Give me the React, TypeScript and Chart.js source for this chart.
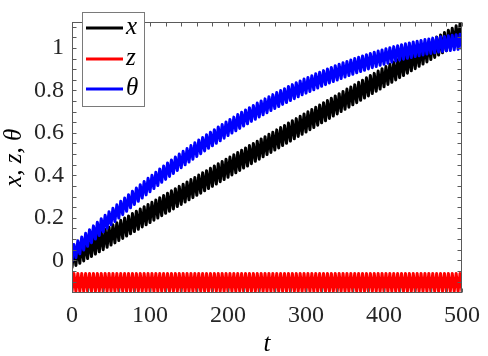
import React, { useEffect, useRef } from "react";
import { Chart, registerables } from "chart.js";

Chart.register(...registerables);

// sample times (alternating trough / crest of the fast oscillation)
const tValues = [
  0, 2.5, 5, 7.5, 10, 12.5, 15, 17.5, 20, 22.5, 25, 27.5, 30, 32.5, 35, 37.5, 40, 42.5, 45, 47.5,
  50, 52.5, 55, 57.5, 60, 62.5, 65, 67.5, 70, 72.5, 75, 77.5, 80, 82.5, 85, 87.5, 90, 92.5, 95, 97.5,
  100, 102.5, 105, 107.5, 110, 112.5, 115, 117.5, 120, 122.5, 125, 127.5, 130, 132.5, 135, 137.5, 140, 142.5, 145, 147.5,
  150, 152.5, 155, 157.5, 160, 162.5, 165, 167.5, 170, 172.5, 175, 177.5, 180, 182.5, 185, 187.5, 190, 192.5, 195, 197.5,
  200, 202.5, 205, 207.5, 210, 212.5, 215, 217.5, 220, 222.5, 225, 227.5, 230, 232.5, 235, 237.5, 240, 242.5, 245, 247.5,
  250, 252.5, 255, 257.5, 260, 262.5, 265, 267.5, 270, 272.5, 275, 277.5, 280, 282.5, 285, 287.5, 290, 292.5, 295, 297.5,
  300, 302.5, 305, 307.5, 310, 312.5, 315, 317.5, 320, 322.5, 325, 327.5, 330, 332.5, 335, 337.5, 340, 342.5, 345, 347.5,
  350, 352.5, 355, 357.5, 360, 362.5, 365, 367.5, 370, 372.5, 375, 377.5, 380, 382.5, 385, 387.5, 390, 392.5, 395, 397.5,
  400, 402.5, 405, 407.5, 410, 412.5, 415, 417.5, 420, 422.5, 425, 427.5, 430, 432.5, 435, 437.5, 440, 442.5, 445, 447.5,
  450, 452.5, 455, 457.5, 460, 462.5, 465, 467.5, 470, 472.5, 475, 477.5, 480, 482.5, 485, 487.5, 490, 492.5, 495, 497.5,
  500,
];

const xValues = [
  -0.035, 0.060, -0.024, 0.071, -0.014, 0.082, -0.003, 0.092, 0.008, 0.103, 0.018, 0.114, 0.029, 0.124, 0.040, 0.135, 0.050, 0.146, 0.061, 0.156,
  0.072, 0.167, 0.082, 0.177, 0.093, 0.188, 0.103, 0.199, 0.114, 0.209, 0.125, 0.220, 0.135, 0.231, 0.146, 0.241, 0.157, 0.252, 0.167, 0.263,
  0.178, 0.273, 0.189, 0.284, 0.199, 0.295, 0.210, 0.305, 0.221, 0.316, 0.231, 0.327, 0.242, 0.337, 0.253, 0.348, 0.263, 0.358, 0.274, 0.369,
  0.285, 0.380, 0.295, 0.390, 0.306, 0.401, 0.316, 0.412, 0.327, 0.422, 0.338, 0.433, 0.348, 0.444, 0.359, 0.454, 0.370, 0.465, 0.380, 0.476,
  0.391, 0.486, 0.402, 0.497, 0.412, 0.508, 0.423, 0.518, 0.434, 0.529, 0.444, 0.540, 0.455, 0.550, 0.466, 0.561, 0.476, 0.571, 0.487, 0.582,
  0.498, 0.593, 0.508, 0.603, 0.519, 0.614, 0.529, 0.625, 0.540, 0.635, 0.551, 0.646, 0.561, 0.657, 0.572, 0.667, 0.583, 0.678, 0.593, 0.689,
  0.604, 0.699, 0.615, 0.710, 0.625, 0.721, 0.636, 0.731, 0.647, 0.742, 0.657, 0.752, 0.668, 0.763, 0.679, 0.774, 0.689, 0.784, 0.700, 0.795,
  0.711, 0.806, 0.721, 0.816, 0.732, 0.827, 0.742, 0.838, 0.753, 0.848, 0.764, 0.859, 0.774, 0.870, 0.785, 0.880, 0.796, 0.891, 0.806, 0.902,
  0.817, 0.912, 0.828, 0.923, 0.838, 0.933, 0.849, 0.944, 0.860, 0.955, 0.870, 0.965, 0.881, 0.976, 0.892, 0.987, 0.902, 0.997, 0.913, 1.008,
  0.924, 1.019, 0.934, 1.029, 0.945, 1.040, 0.955, 1.051, 0.966, 1.061, 0.977, 1.072, 0.987, 1.083, 0.998, 1.093, 1.009, 1.104, 1.019, 1.115,
  1.030,
];

const zValues = [
  -0.146, -0.062, -0.146, -0.062, -0.146, -0.062, -0.146, -0.062, -0.146, -0.062, -0.146, -0.062, -0.146, -0.062, -0.146, -0.062, -0.146, -0.062, -0.146, -0.062,
  -0.146, -0.062, -0.146, -0.062, -0.146, -0.062, -0.146, -0.062, -0.146, -0.062, -0.146, -0.062, -0.146, -0.062, -0.146, -0.062, -0.146, -0.062, -0.146, -0.062,
  -0.146, -0.062, -0.146, -0.062, -0.146, -0.062, -0.146, -0.062, -0.146, -0.062, -0.146, -0.062, -0.146, -0.062, -0.146, -0.062, -0.146, -0.062, -0.146, -0.062,
  -0.146, -0.062, -0.146, -0.062, -0.146, -0.062, -0.146, -0.062, -0.146, -0.062, -0.146, -0.062, -0.146, -0.062, -0.146, -0.062, -0.146, -0.062, -0.146, -0.062,
  -0.146, -0.062, -0.146, -0.062, -0.146, -0.062, -0.146, -0.062, -0.146, -0.062, -0.146, -0.062, -0.146, -0.062, -0.146, -0.062, -0.146, -0.062, -0.146, -0.062,
  -0.146, -0.062, -0.146, -0.062, -0.146, -0.062, -0.146, -0.062, -0.146, -0.062, -0.146, -0.062, -0.146, -0.062, -0.146, -0.062, -0.146, -0.062, -0.146, -0.062,
  -0.146, -0.062, -0.146, -0.062, -0.146, -0.062, -0.146, -0.062, -0.146, -0.062, -0.146, -0.062, -0.146, -0.062, -0.146, -0.062, -0.146, -0.062, -0.146, -0.062,
  -0.146, -0.062, -0.146, -0.062, -0.146, -0.062, -0.146, -0.062, -0.146, -0.062, -0.146, -0.062, -0.146, -0.062, -0.146, -0.062, -0.146, -0.062, -0.146, -0.062,
  -0.146, -0.062, -0.146, -0.062, -0.146, -0.062, -0.146, -0.062, -0.146, -0.062, -0.146, -0.062, -0.146, -0.062, -0.146, -0.062, -0.146, -0.062, -0.146, -0.062,
  -0.146, -0.062, -0.146, -0.062, -0.146, -0.062, -0.146, -0.062, -0.146, -0.062, -0.146, -0.062, -0.146, -0.062, -0.146, -0.062, -0.146, -0.062, -0.146, -0.062,
  -0.146,
];

const thetaValues = [
  -0.005, 0.074, 0.013, 0.092, 0.031, 0.110, 0.048, 0.127, 0.066, 0.144, 0.083, 0.162, 0.100, 0.179, 0.117, 0.196, 0.134, 0.212, 0.151, 0.229,
  0.167, 0.245, 0.183, 0.261, 0.199, 0.278, 0.215, 0.293, 0.231, 0.309, 0.247, 0.325, 0.263, 0.340, 0.278, 0.356, 0.293, 0.371, 0.308, 0.386,
  0.323, 0.400, 0.338, 0.415, 0.352, 0.430, 0.367, 0.444, 0.381, 0.458, 0.395, 0.472, 0.409, 0.486, 0.423, 0.500, 0.436, 0.513, 0.450, 0.526,
  0.463, 0.540, 0.476, 0.553, 0.489, 0.566, 0.502, 0.578, 0.515, 0.591, 0.527, 0.603, 0.539, 0.615, 0.551, 0.628, 0.563, 0.639, 0.575, 0.651,
  0.587, 0.663, 0.599, 0.674, 0.610, 0.686, 0.621, 0.697, 0.632, 0.708, 0.643, 0.718, 0.654, 0.729, 0.664, 0.740, 0.675, 0.750, 0.685, 0.760,
  0.695, 0.770, 0.705, 0.780, 0.715, 0.790, 0.724, 0.799, 0.734, 0.808, 0.743, 0.818, 0.752, 0.827, 0.761, 0.836, 0.770, 0.844, 0.779, 0.853,
  0.787, 0.861, 0.795, 0.869, 0.803, 0.878, 0.811, 0.885, 0.819, 0.893, 0.827, 0.901, 0.835, 0.908, 0.842, 0.916, 0.849, 0.923, 0.856, 0.930,
  0.863, 0.936, 0.870, 0.943, 0.876, 0.950, 0.883, 0.956, 0.889, 0.962, 0.895, 0.968, 0.901, 0.974, 0.907, 0.980, 0.912, 0.985, 0.918, 0.990,
  0.923, 0.996, 0.928, 1.001, 0.933, 1.006, 0.938, 1.010, 0.943, 1.015, 0.947, 1.019, 0.951, 1.023, 0.955, 1.028, 0.959, 1.031, 0.963, 1.035,
  0.967, 1.039, 0.971, 1.042, 0.974, 1.046, 0.977, 1.049, 0.980, 1.052, 0.983, 1.054, 0.986, 1.057, 0.988, 1.060, 0.991, 1.062, 0.993, 1.064,
  0.995,
];

const seriesLabels = ["x", "z", "θ"];
const seriesColors = ["#000000", "#ff0000", "#0000ff"];
const xTickValues = [0, 100, 200, 300, 400, 500];
const yTickValues = [0, 0.2, 0.4, 0.6, 0.8, 1];
const xMinorStep = 20;
const yMinorStep = 0.05;
const xRange = [0, 500];
const yRange = [-0.154, 1.12];
const xAxisTitle = "t";
const yAxisTitle = "x, z, θ";

const FONT = '"Liberation Serif", "Times New Roman", serif';

export default function App() {
  const ref = useRef<HTMLCanvasElement>(null);

  useEffect(() => {
    document.body.style.margin = "0";
    const canvas = ref.current;
    if (!canvas) return;

    const toPoints = (vals: number[]) => tValues.map((t, i) => ({ x: t, y: vals[i] }));
    const allSeries = [xValues, zValues, thetaValues];

    const framePlugin = {
      id: "matlabFrame",
      afterDatasetsDraw(chart: any) {
        const { ctx, chartArea: a, scales } = chart;
        const xs = scales.x;
        const ys = scales.y;
        const L = Math.round(a.left) + 0.5;
        const R = Math.round(a.right) - 0.5;
        const T = Math.round(a.top) + 0.5;
        const B = Math.round(a.bottom) - 0.5;
        ctx.save();
        ctx.strokeStyle = "#5a5a5a";
        ctx.lineWidth = 1;
        ctx.beginPath();
        const tl = 4;
        for (let v = xRange[0]; v <= xRange[1] + 1e-9; v += xMinorStep) {
          const px = Math.round(xs.getPixelForValue(v)) + 0.5;
          ctx.moveTo(px, B);
          ctx.lineTo(px, B - tl);
          ctx.moveTo(px, T);
          ctx.lineTo(px, T + tl);
        }
        for (let v = -0.15; v <= yRange[1] + 1e-9; v += yMinorStep) {
          const py = Math.round(ys.getPixelForValue(v)) + 0.5;
          if (py < T || py > B) continue;
          ctx.moveTo(L, py);
          ctx.lineTo(L + tl, py);
          ctx.moveTo(R, py);
          ctx.lineTo(R - tl, py);
        }
        ctx.stroke();
        ctx.strokeRect(L, T, R - L, B - T);

        // legend
        const lx = 82, ly = 12, lw = 62, lh = 94;
        ctx.fillStyle = "#ffffff";
        ctx.fillRect(lx, ly, lw, lh);
        ctx.strokeStyle = "#7a7a7a";
        ctx.strokeRect(lx + 0.5, ly + 0.5, lw, lh);
        const rows = [28, 59, 89];
        chart.data.datasets.forEach((ds: any, i: number) => {
          const y = rows[i];
          ctx.strokeStyle = ds.borderColor;
          ctx.lineWidth = 3;
          ctx.beginPath();
          ctx.moveTo(86, y);
          ctx.lineTo(123, y);
          ctx.stroke();
          ctx.fillStyle = "#000";
          ctx.font = `italic 25px ${FONT}`;
          ctx.textAlign = "left";
          ctx.textBaseline = "middle";
          ctx.fillText(ds.label, 126, y - 1);
        });

        // axis titles
        ctx.fillStyle = "#000";
        ctx.font = `italic 25px ${FONT}`;
        ctx.textAlign = "center";
        ctx.textBaseline = "middle";
        ctx.fillText(xAxisTitle, (a.left + a.right) / 2, 344);
        ctx.translate(14, (a.top + a.bottom) / 2);
        ctx.rotate(-Math.PI / 2);
        ctx.fillText(yAxisTitle, 0, 0);
        ctx.restore();
      },
    };

    const chart = new Chart(canvas, {
      type: "line",
      data: {
        datasets: allSeries.map((vals, i) => ({
          label: seriesLabels[i],
          data: toPoints(vals),
          borderColor: seriesColors[i],
          backgroundColor: seriesColors[i],
          borderWidth: 3,
          borderJoinStyle: "round",
          borderCapStyle: "round",
          pointRadius: 0,
          tension: 0,
          fill: false,
          clip: 0,
          order: i === 2 ? 0 : i === 1 ? 1 : 2,
        })),
      },
      options: {
        responsive: false,
        animation: false,
        devicePixelRatio: 1,
        layout: { padding: { top: 4, right: 18, left: 0, bottom: 0 } },
        plugins: { legend: { display: false }, tooltip: { enabled: false } },
        scales: {
          x: {
            type: "linear",
            min: xRange[0],
            max: xRange[1],
            grid: { display: false, drawTicks: false },
            border: { display: false },
            ticks: {
              font: { family: FONT, size: 24 },
              color: "#262626",
              padding: 8,
              maxRotation: 0,
              autoSkip: false,
            },
            afterBuildTicks: (s: any) => {
              s.ticks = xTickValues.map((v) => ({ value: v }));
            },
            afterFit: (s: any) => {
              s.height = 63;
            },
          },
          y: {
            type: "linear",
            min: yRange[0],
            max: yRange[1],
            grid: { display: false, drawTicks: false },
            border: { display: false },
            ticks: {
              font: { family: FONT, size: 24 },
              color: "#262626",
              padding: 8,
              autoSkip: false,
              callback: (v: any) => String(Math.round(Number(v) * 10) / 10),
            },
            afterBuildTicks: (s: any) => {
              s.ticks = yTickValues.map((v) => ({ value: v }));
            },
            afterFit: (s: any) => {
              s.width = 72;
            },
          },
        },
      },
      plugins: [framePlugin],
    } as any);

    return () => chart.destroy();
  }, []);

  return (
    <div style={{ width: 488, height: 356, background: "#fff" }}>
      <canvas ref={ref} width={488} height={356} style={{ display: "block" }} />
    </div>
  );
}
